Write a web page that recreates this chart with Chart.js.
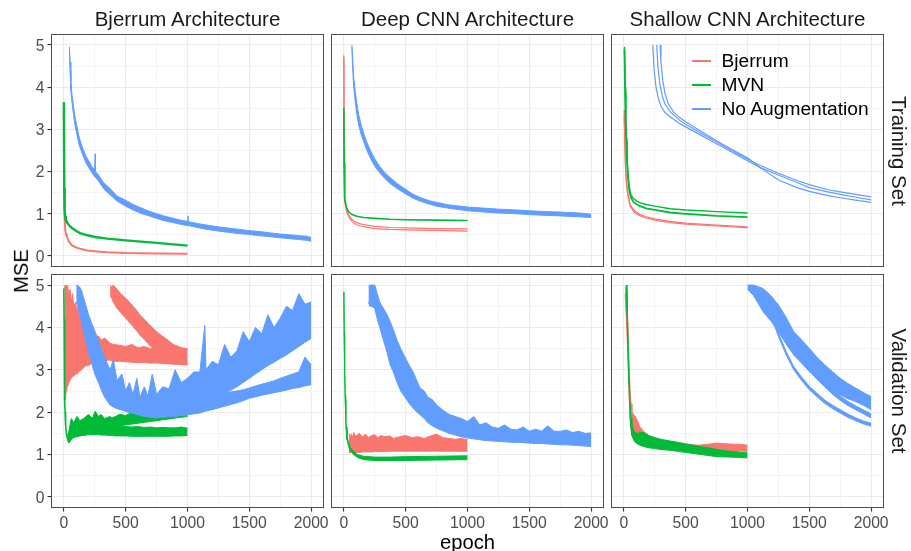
<!DOCTYPE html>
<html>
<head>
<meta charset="utf-8">
<script src="https://cdn.jsdelivr.net/npm/chart.js"></script>
<style>
  body { margin: 0; background: #fff; }
  #page { position: relative; width: 911px; height: 551px; overflow: hidden; font-family: "Liberation Sans", Arial, sans-serif; }
  canvas { position: absolute; left: 0; top: 0; }
  .txt { position: absolute; white-space: nowrap; line-height: 1; transform: translate(-50%, -50%); }
  .strip { font-size: 20.5px; color: #1a1a1a; }
  .axisTitle { font-size: 20.2px; color: #000; }
  .rot90 { transform: translate(-50%, -50%) rotate(90deg); }
  .rotm90 { transform: translate(-50%, -50%) rotate(-90deg); }
  .key { position: absolute; width: 19px; height: 2px; }
  .legTxt { position: absolute; font-size: 19.2px; line-height: 1; transform: translateY(-50%); color: #000; }
</style>
</head>
<body>
<div id="page">
  <canvas id="p0" width="911" height="551"></canvas>
  <canvas id="p1" width="911" height="551"></canvas>
  <canvas id="p2" width="911" height="551"></canvas>
  <canvas id="p3" width="911" height="551"></canvas>
  <canvas id="p4" width="911" height="551"></canvas>
  <canvas id="p5" width="911" height="551"></canvas>

  <div class="txt strip" style="left:187.5px;top:19px">Bjerrum Architecture</div>
  <div class="txt strip" style="left:467.5px;top:19px">Deep CNN Architecture</div>
  <div class="txt strip" style="left:747.5px;top:19px">Shallow CNN Architecture</div>
  <div class="txt strip rot90" style="left:899px;top:150.5px">Training Set</div>
  <div class="txt strip rot90" style="left:899px;top:391px">Validation Set</div>
  <div class="txt axisTitle rotm90" style="left:21px;top:271px">MSE</div>
  <div class="txt axisTitle" style="left:467.5px;top:541.5px">epoch</div>

  <div class="key" style="left:692px;top:60px;background:#F8766D"></div>
  <div class="legTxt" style="left:721.5px;top:61px">Bjerrum</div>
  <div class="key" style="left:692px;top:84px;background:#00BA38"></div>
  <div class="legTxt" style="left:721.5px;top:85px">MVN</div>
  <div class="key" style="left:692px;top:107.5px;background:#619CFF"></div>
  <div class="legTxt" style="left:721.5px;top:108.5px">No Augmentation</div>
</div>

<script>
// -- Axes --
const xGridValues = [0, 250, 500, 750, 1000, 1250, 1500, 1750, 2000];
const xTickLabels = [0, 500, 1000, 1500, 2000];
const yGridValues = [0, 0.5, 1, 1.5, 2, 2.5, 3, 3.5, 4, 4.5, 5];
const yTickLabels = [0, 1, 2, 3, 4, 5];

// -- Bjerrum architecture, training set --
const bjTrainBjEpoch = [0, 3, 6, 11, 18, 24, 38, 65, 100, 132, 190, 253, 350, 500, 750, 1000];
const bjTrainBjMse = [3.45, 1.6, 0.95, 0.62, 0.52, 0.47, 0.35, 0.25, 0.20, 0.17, 0.13, 0.11, 0.09, 0.07, 0.06, 0.05];
const bjTrainMvnEpoch = [0, 3, 6, 10, 16, 25, 38, 65, 100, 132, 190, 253, 350, 500, 750, 1000];
const bjTrainMvnMse = [3.65, 1.6, 1.1, 0.95, 0.86, 0.80, 0.74, 0.66, 0.59, 0.54, 0.49, 0.45, 0.41, 0.37, 0.31, 0.245];
const bjTrainNoneEpoch = [45, 50, 56, 65, 78, 90, 105, 125, 145, 160, 180, 200, 225, 250, 253, 256, 280, 320, 374, 430, 500, 560, 624, 690, 750, 820, 900, 960, 1000, 1004, 1008, 1100, 1180, 1250, 1330, 1420, 1500, 1580, 1660, 1750, 1830, 1900, 1960, 2000];
const bjTrainNoneHi = [4.96, 4.6, 4.15, 3.85, 3.55, 3.30, 3.08, 2.80, 2.62, 2.50, 2.36, 2.26, 2.12, 2.05, 2.42, 2.0, 1.92, 1.74, 1.60, 1.42, 1.32, 1.22, 1.14, 1.06, 1.0, 0.94, 0.88, 0.84, 0.82, 0.95, 0.81, 0.76, 0.72, 0.69, 0.66, 0.63, 0.60, 0.58, 0.55, 0.52, 0.50, 0.48, 0.47, 0.44];
const bjTrainNoneLo = [4.9, 4.4, 3.95, 3.65, 3.35, 3.1, 2.88, 2.62, 2.45, 2.34, 2.20, 2.10, 1.98, 1.88, 1.87, 1.86, 1.78, 1.60, 1.45, 1.30, 1.18, 1.09, 1.01, 0.95, 0.89, 0.83, 0.78, 0.74, 0.72, 0.72, 0.72, 0.66, 0.62, 0.59, 0.56, 0.53, 0.51, 0.48, 0.46, 0.43, 0.41, 0.39, 0.37, 0.35];

// -- Deep CNN architecture, training set --
const deepTrainBjEpoch = [0, 2, 4, 7, 12, 19, 28, 38, 50, 65, 85, 105, 135, 172, 250, 374, 500, 750, 1000];
const deepTrainBjMseA = [4.76, 2.6, 1.7, 1.35, 1.2, 1.10, 1.0, 0.94, 0.88, 0.82, 0.77, 0.74, 0.71, 0.69, 0.65, 0.63, 0.62, 0.605, 0.59];
const deepTrainBjMseB = [4.7, 2.5, 1.7, 1.4, 1.25, 1.15, 1.05, 0.99, 0.93, 0.87, 0.82, 0.79, 0.76, 0.74, 0.70, 0.675, 0.665, 0.65, 0.64];
const deepTrainMvnEpoch = [0, 2, 5, 9, 14, 20, 30, 45, 65, 105, 160, 250, 374, 500, 750, 1000];
const deepTrainMvnMse = [3.5, 2.2, 1.6, 1.35, 1.24, 1.17, 1.09, 1.03, 0.98, 0.94, 0.91, 0.89, 0.87, 0.86, 0.85, 0.84];
const deepTrainNoneEpoch = [65, 70, 78, 90, 105, 120, 140, 159, 180, 200, 225, 250, 290, 330, 374, 430, 500, 560, 624, 690, 750, 850, 1000, 1100, 1250, 1400, 1500, 1650, 1750, 1900, 2000];
const deepTrainNoneHi = [5.0, 4.75, 4.3, 3.95, 3.62, 3.35, 3.1, 2.92, 2.74, 2.6, 2.44, 2.30, 2.12, 1.98, 1.86, 1.72, 1.58, 1.46, 1.38, 1.31, 1.27, 1.21, 1.16, 1.14, 1.11, 1.09, 1.07, 1.05, 1.04, 1.02, 0.99];
const deepTrainNoneLo = [4.95, 4.55, 4.05, 3.7, 3.36, 3.1, 2.88, 2.72, 2.55, 2.41, 2.26, 2.13, 1.97, 1.84, 1.72, 1.60, 1.47, 1.37, 1.29, 1.23, 1.18, 1.13, 1.07, 1.05, 1.02, 1.0, 0.98, 0.96, 0.95, 0.93, 0.91];

// -- Shallow CNN architecture, training set --
const shTrainBjEpoch = [3, 8, 14, 20, 28, 38, 51, 65, 78, 100, 132, 180, 250, 374, 500, 750, 1000];
const shTrainBjMseA = [3.46, 2.7, 2.1, 1.8, 1.58, 1.41, 1.21, 1.15, 1.10, 1.04, 0.98, 0.93, 0.88, 0.82, 0.78, 0.73, 0.69];
const shTrainBjMseB = [3.3, 2.6, 2.0, 1.72, 1.52, 1.36, 1.18, 1.12, 1.06, 1.0, 0.95, 0.90, 0.85, 0.79, 0.755, 0.71, 0.67];
const shTrainMvnEpoch = [5, 10, 15, 20, 25, 30, 38, 46, 57, 78, 100, 132, 180, 250, 374, 500, 750, 1000];
const shTrainMvnMseA = [4.96, 4.0, 3.3, 2.8, 2.4, 2.1, 1.8, 1.6, 1.45, 1.36, 1.31, 1.26, 1.22, 1.18, 1.12, 1.09, 1.05, 1.02];
const shTrainMvnMseB = [4.9, 3.9, 3.2, 2.7, 2.3, 2.0, 1.7, 1.52, 1.38, 1.28, 1.23, 1.18, 1.13, 1.09, 1.03, 1.0, 0.95, 0.92];
const shTrainNoneEpochA = [234, 245, 260, 280, 300, 333, 374, 450, 500, 600, 750, 900, 1000, 1100, 1250, 1400, 1500, 1650, 1750, 1900, 2000];
const shTrainNoneMseA = [5.0, 4.4, 4.0, 3.72, 3.55, 3.40, 3.30, 3.14, 3.06, 2.90, 2.66, 2.42, 2.26, 2.10, 1.92, 1.74, 1.62, 1.52, 1.46, 1.38, 1.33];
const shTrainNoneEpochB = [266, 275, 290, 310, 333, 374, 450, 500, 600, 750, 900, 1000, 1100, 1250, 1400, 1500, 1650, 1750, 1900, 2000];
const shTrainNoneMseB = [5.0, 4.5, 4.1, 3.8, 3.6, 3.42, 3.22, 3.12, 2.95, 2.70, 2.46, 2.30, 2.15, 1.96, 1.79, 1.69, 1.57, 1.52, 1.45, 1.40];
const shTrainNoneEpochC = [293, 300, 315, 333, 360, 400, 450, 500, 600, 750, 900, 1000, 1100, 1250, 1400, 1500, 1650, 1750, 1900, 2000];
const shTrainNoneMseC = [5.0, 4.6, 4.15, 3.85, 3.6, 3.42, 3.28, 3.18, 3.0, 2.73, 2.48, 2.33, 2.10, 1.80, 1.62, 1.53, 1.43, 1.38, 1.31, 1.27];

// -- Bjerrum architecture, validation set --
const bjValBjEpochA = [5, 10, 15, 20, 25, 30, 40, 50, 60, 70, 80, 95, 105, 120, 140, 160, 180, 200, 225, 253, 280, 300, 330, 374, 400, 450, 500, 550, 600, 650, 700, 750, 800, 850, 900, 950, 1000];
const bjValBjHiA = [4.9, 5.0, 4.7, 5.0, 4.85, 5.0, 4.75, 4.9, 4.6, 4.8, 4.5, 4.6, 4.37, 4.5, 4.1, 4.2, 3.95, 4.0, 3.85, 3.78, 3.8, 3.7, 3.75, 3.63, 3.6, 3.58, 3.55, 3.6, 3.52, 3.55, 3.5, 3.5, 3.55, 3.48, 3.5, 3.52, 3.47];
const bjValBjLoA = [3.2, 2.3, 2.4, 2.5, 2.6, 2.6, 2.7, 2.75, 2.8, 2.85, 2.85, 2.9, 2.9, 2.95, 3.0, 3.05, 3.1, 3.1, 3.15, 3.19, 3.2, 3.2, 3.22, 3.23, 3.2, 3.2, 3.19, 3.18, 3.17, 3.17, 3.16, 3.16, 3.15, 3.14, 3.13, 3.12, 3.12];
const bjValBjEpochB = [374, 385, 400, 430, 460, 500, 530, 560, 590, 616, 650, 680, 715, 750, 785, 820, 850, 884, 920, 950, 1000];
const bjValBjHiB = [5.0, 4.95, 5.0, 4.9, 4.8, 4.69, 4.6, 4.5, 4.4, 4.29, 4.2, 4.1, 4.0, 3.9, 3.82, 3.75, 3.68, 3.6, 3.56, 3.52, 3.5];
const bjValBjLoB = [4.75, 4.7, 4.6, 4.45, 4.35, 4.22, 4.12, 4.02, 3.92, 3.82, 3.72, 3.62, 3.52, 3.43, 3.36, 3.3, 3.25, 3.19, 3.16, 3.14, 3.12];
const bjValMvnDropEpoch = [0, 2, 4, 6, 8, 10, 14, 20, 28, 35];
const bjValMvnDropMse = [4.92, 4.2, 3.4, 2.8, 2.3, 2.0, 1.7, 1.5, 1.38, 1.32];
const bjValMvnEpochA = [30, 40, 50, 60, 80, 105, 130, 160, 200, 230, 253, 280, 300, 330, 374, 420, 450, 500, 550, 600, 650, 700, 750, 800, 850, 900, 950, 1000];
const bjValMvnHiA = [1.45, 1.55, 1.7, 1.85, 1.75, 1.9, 1.8, 1.85, 1.95, 1.85, 2.02, 1.9, 1.95, 1.85, 1.9, 1.75, 1.68, 1.66, 1.65, 1.66, 1.64, 1.65, 1.63, 1.64, 1.63, 1.63, 1.65, 1.62];
const bjValMvnLoA = [1.3, 1.28, 1.3, 1.35, 1.40, 1.42, 1.44, 1.45, 1.47, 1.47, 1.47, 1.47, 1.46, 1.46, 1.45, 1.44, 1.44, 1.44, 1.43, 1.43, 1.43, 1.43, 1.43, 1.43, 1.43, 1.44, 1.44, 1.45];
const bjValMvnEpochB = [374, 420, 450, 500, 550, 600, 650, 700, 750, 800, 850, 900, 950, 1000];
const bjValMvnHiB = [1.85, 1.9, 1.95, 1.92, 2.0, 1.98, 2.05, 2.08, 2.1, 2.12, 2.1, 2.15, 2.17, 2.2];
const bjValMvnLoB = [1.62, 1.65, 1.68, 1.7, 1.72, 1.74, 1.76, 1.78, 1.8, 1.82, 1.84, 1.86, 1.88, 1.9];
const bjValNoneEpochA = [100, 115, 130, 145, 160, 180, 200, 225, 253, 280, 300, 330, 374, 400, 430, 470, 500, 530, 560, 590, 616, 650, 680, 715, 750, 800, 850, 900, 950, 1000, 1050, 1100, 1140, 1150, 1200, 1250, 1300, 1350, 1400, 1450, 1500, 1550, 1600, 1650, 1700, 1750, 1800, 1850, 1900, 1950, 2000];
const bjValNoneHiA = [5.0, 4.98, 4.95, 4.85, 4.7, 4.5, 4.3, 4.1, 3.9, 3.7, 3.5, 3.3, 3.0, 3.25, 2.75, 2.9, 2.5, 2.7, 2.42, 2.8, 2.35, 2.6, 2.38, 2.9, 2.42, 2.6, 2.55, 3.0, 2.7, 2.8, 2.95, 2.95, 4.05, 3.0, 3.2, 3.12, 3.6, 3.3, 3.45, 3.9, 3.67, 4.0, 3.85, 4.3, 4.0, 4.22, 4.5, 4.4, 4.8, 4.55, 4.6];
const bjValNoneLoA = [4.6, 4.5, 4.3, 4.1, 3.9, 3.65, 3.4, 3.15, 2.88, 2.7, 2.55, 2.35, 2.17, 2.12, 2.08, 2.05, 2.02, 2.0, 1.98, 1.96, 1.94, 1.92, 1.90, 1.88, 1.86, 1.9, 1.95, 2.0, 2.05, 2.10, 2.15, 2.20, 2.25, 2.26, 2.3, 2.33, 2.45, 2.52, 2.60, 2.70, 2.80, 2.90, 3.00, 3.1, 3.18, 3.27, 3.35, 3.45, 3.55, 3.65, 3.74];
const bjValNoneEpochB = [110, 130, 150, 175, 200, 225, 253, 280, 300, 330, 374, 410, 450, 500, 550, 600, 650, 700, 750, 800, 850, 900, 950, 1000, 1050, 1100, 1150, 1200, 1250, 1300, 1350, 1400, 1450, 1500, 1550, 1600, 1650, 1700, 1750, 1800, 1850, 1900, 1950, 2000];
const bjValNoneHiB = [5.0, 4.85, 4.6, 4.35, 4.1, 3.85, 3.6, 3.4, 3.2, 2.95, 2.7, 2.55, 2.42, 2.3, 2.24, 2.18, 2.15, 2.12, 2.14, 2.16, 2.2, 2.22, 2.25, 2.25, 2.28, 2.3, 2.34, 2.37, 2.41, 2.45, 2.48, 2.50, 2.53, 2.57, 2.62, 2.66, 2.7, 2.74, 2.80, 2.85, 2.90, 2.95, 3.3, 3.12];
const bjValNoneLoB = [4.5, 4.3, 4.1, 3.8, 3.5, 3.25, 3.0, 2.8, 2.6, 2.45, 2.3, 2.2, 2.1, 2.02, 1.98, 1.94, 1.90, 1.88, 1.88, 1.88, 1.89, 1.90, 1.92, 1.94, 1.96, 1.98, 2.03, 2.06, 2.10, 2.14, 2.18, 2.22, 2.27, 2.33, 2.36, 2.40, 2.43, 2.46, 2.49, 2.52, 2.56, 2.58, 2.62, 2.65];

// -- Deep CNN architecture, validation set --
const deepValBjEpoch = [40, 50, 60, 70, 80, 95, 105, 125, 150, 175, 200, 225, 250, 275, 300, 330, 374, 400, 450, 500, 550, 600, 650, 700, 750, 800, 850, 900, 950, 1000];
const deepValBjHi = [1.5, 1.42, 1.48, 1.4, 1.52, 1.44, 1.45, 1.5, 1.42, 1.48, 1.4, 1.45, 1.47, 1.4, 1.45, 1.42, 1.44, 1.38, 1.42, 1.45, 1.4, 1.42, 1.38, 1.44, 1.48, 1.4, 1.38, 1.36, 1.38, 1.35];
const deepValBjLo = [1.05, 1.05, 1.05, 1.05, 1.05, 1.05, 1.05, 1.05, 1.06, 1.06, 1.06, 1.06, 1.07, 1.07, 1.07, 1.07, 1.08, 1.08, 1.08, 1.08, 1.08, 1.08, 1.08, 1.08, 1.08, 1.08, 1.08, 1.08, 1.08, 1.08];
const deepValMvnEpoch = [0, 3, 6, 11, 15, 19, 25, 38, 55, 78, 110, 159, 250, 374, 500, 750, 1000];
const deepValMvnHi = [4.84, 3.9, 3.1, 2.4, 1.95, 1.65, 1.45, 1.28, 1.16, 1.08, 1.0, 0.96, 0.94, 0.94, 0.95, 0.96, 0.97];
const deepValMvnLo = [4.84, 3.8, 3.0, 2.3, 1.85, 1.55, 1.35, 1.2, 1.08, 1.0, 0.93, 0.88, 0.86, 0.86, 0.86, 0.87, 0.88];
const deepValNoneEpoch = [199, 210, 225, 250, 270, 290, 310, 330, 350, 374, 400, 430, 460, 500, 530, 560, 590, 616, 650, 680, 715, 750, 800, 850, 900, 950, 1000, 1050, 1100, 1150, 1200, 1250, 1300, 1350, 1400, 1450, 1500, 1550, 1600, 1650, 1700, 1750, 1800, 1850, 1900, 1950, 2000];
const deepValNoneHi = [4.96, 5.0, 5.0, 5.0, 4.8, 4.6, 4.5, 4.4, 4.3, 4.14, 3.95, 3.7, 3.5, 3.27, 3.1, 2.95, 2.75, 2.57, 2.5, 2.35, 2.3, 2.17, 2.05, 1.95, 1.9, 1.85, 1.78, 1.9, 1.7, 1.75, 1.65, 1.62, 1.7, 1.6, 1.58, 1.65, 1.55, 1.6, 1.55, 1.68, 1.55, 1.55, 1.58, 1.52, 1.55, 1.5, 1.51];
const deepValNoneLo = [4.6, 4.5, 4.5, 4.45, 4.2, 4.0, 3.8, 3.6, 3.4, 3.12, 2.95, 2.7, 2.5, 2.33, 2.2, 2.1, 2.0, 1.94, 1.85, 1.75, 1.68, 1.62, 1.56, 1.50, 1.46, 1.42, 1.39, 1.37, 1.35, 1.33, 1.32, 1.31, 1.30, 1.29, 1.29, 1.28, 1.27, 1.26, 1.26, 1.25, 1.24, 1.23, 1.23, 1.22, 1.21, 1.20, 1.19];

// -- Shallow CNN architecture, validation set --
const shValBjEpoch = [10, 20, 30, 38, 45, 51, 58, 65, 78, 91, 110, 130, 159, 200, 250, 300, 374, 450, 500, 600, 700, 750, 850, 950, 1000];
const shValBjHi = [4.95, 4.9, 4.3, 3.5, 2.9, 2.5, 2.2, 2.0, 1.95, 1.9, 1.8, 1.65, 1.55, 1.45, 1.38, 1.33, 1.30, 1.28, 1.25, 1.22, 1.25, 1.27, 1.25, 1.24, 1.22];
const shValBjLo = [4.8, 4.2, 3.5, 2.8, 2.2, 1.8, 1.6, 1.5, 1.40, 1.32, 1.27, 1.24, 1.22, 1.19, 1.17, 1.14, 1.12, 1.10, 1.09, 1.07, 1.06, 1.06, 1.07, 1.08, 1.08];
const shValMvnEpoch = [18, 25, 32, 38, 45, 51, 58, 65, 78, 91, 110, 130, 159, 200, 250, 300, 374, 450, 500, 600, 700, 750, 850, 950, 1000];
const shValMvnHi = [5.0, 4.7, 4.0, 3.3, 2.6, 2.15, 1.85, 1.7, 1.58, 1.52, 1.50, 1.52, 1.52, 1.45, 1.40, 1.36, 1.32, 1.28, 1.25, 1.2, 1.15, 1.12, 1.08, 1.05, 1.04];
const shValMvnLo = [4.85, 4.4, 3.6, 2.9, 2.3, 1.9, 1.6, 1.45, 1.35, 1.29, 1.25, 1.22, 1.19, 1.16, 1.14, 1.12, 1.10, 1.07, 1.05, 1.01, 0.97, 0.95, 0.94, 0.93, 0.92];
const shValNoneEpochA = [1000, 1050, 1126, 1190, 1250, 1310, 1374, 1440, 1500, 1560, 1624, 1690, 1750, 1810, 1874, 1940, 2000];
const shValNoneHiA = [5.0, 5.0, 4.92, 4.75, 4.53, 4.25, 3.90, 3.70, 3.51, 3.30, 3.12, 2.95, 2.80, 2.68, 2.57, 2.46, 2.37];
const shValNoneLoA = [4.9, 4.75, 4.37, 4.15, 3.90, 3.62, 3.35, 3.15, 2.96, 2.80, 2.65, 2.52, 2.41, 2.32, 2.25, 2.16, 2.06];
const shValNoneEpochB = [1073, 1126, 1190, 1250, 1310, 1374, 1440, 1500, 1560, 1624, 1690, 1750, 1810, 1874, 1940, 2000];
const shValNoneHiB = [4.98, 4.65, 4.35, 4.16, 3.85, 3.55, 3.30, 3.08, 2.88, 2.70, 2.52, 2.38, 2.26, 2.15, 2.05, 1.96];
const shValNoneLoB = [4.92, 4.55, 4.25, 4.06, 3.75, 3.45, 3.20, 2.98, 2.78, 2.60, 2.42, 2.28, 2.16, 2.06, 1.96, 1.86];
const shValNoneEpochC = [1040, 1100, 1183, 1250, 1310, 1374, 1440, 1500, 1560, 1624, 1690, 1750, 1810, 1874, 1940, 2000];
const shValNoneHiC = [5.0, 4.75, 4.40, 3.87, 3.45, 3.08, 2.82, 2.61, 2.45, 2.29, 2.16, 2.06, 1.96, 1.87, 1.79, 1.74];
const shValNoneLoC = [4.96, 4.68, 4.32, 3.79, 3.37, 3.00, 2.74, 2.53, 2.37, 2.21, 2.08, 1.98, 1.88, 1.80, 1.72, 1.67];

// -- Layout / style --
const PAGE_W = 911, PAGE_H = 551;
const COL_LEFT = [51.5, 331.5, 611.5];
const ROW_TOP = [34.5, 274.5];
const PANEL_W = 272;
const PANEL_H = [232, 233];
const AXIS_W = 45;   // room kept for the y tick labels (left column only)
const AXIS_H = 35;   // room kept for the x tick labels (bottom row only)
const RED = '#F8766D', GREEN = '#00BA38', BLUE = '#619CFF';
const FONT = '"Liberation Sans", Arial, sans-serif';

const pts = (ep, ys) => ep.map((e, i) => ({ x: e, y: ys[i] }));

// ggplot draws groups in order: Bjerrum, MVN, No Augmentation (last on top)
const ORDER = { [RED]: 2, [GREEN]: 1, [BLUE]: 0 };

function line(color, ep, ys, width) {
    return { data: pts(ep, ys), borderColor: color, borderWidth: width || 1.2, pointRadius: 0, fill: false, order: ORDER[color] };
}

// noisy replicate runs drawn as a filled band between low and high envelopes
function band(color, ep, lo, hi) {
    return [
        { data: pts(ep, hi), borderColor: color, borderWidth: 1, pointRadius: 0, fill: false, order: ORDER[color] },
        { data: pts(ep, lo), borderColor: color, borderWidth: 1, pointRadius: 0, fill: '-1', backgroundColor: color, order: ORDER[color] }
    ];
}

const panelBorder = {
    id: 'panelBorder',
    afterDraw(chart) {
        const a = chart.chartArea, ctx = chart.ctx;
        ctx.save();
        ctx.strokeStyle = '#4d4d4d';
        ctx.lineWidth = 1;
        ctx.strokeRect(a.left, a.top, a.right - a.left, a.bottom - a.top);
        ctx.restore();
    }
};

const isMajorX = c => c.tick && xTickLabels.includes(c.tick.value);
const isMajorY = c => c.tick && yTickLabels.includes(c.tick.value);

function makePanel(id, col, row, datasets) {
    const left = COL_LEFT[col], top = ROW_TOP[row];
    const showX = row === 1, showY = col === 0;
    const axW = showY ? AXIS_W : 0, axH = showX ? AXIS_H : 0;
    new Chart(document.getElementById(id), {
        type: 'line',
        data: { datasets },
        options: {
            responsive: false,
            animation: false,
            devicePixelRatio: 1,
            events: [],
            layout: { padding: {
                left: left - axW,
                top: top,
                right: PAGE_W - left - PANEL_W,
                bottom: PAGE_H - top - PANEL_H[row] - axH
            } },
            plugins: { legend: { display: false }, tooltip: { enabled: false } },
            scales: {
                x: {
                    type: 'linear', min: -100, max: 2100,
                    afterBuildTicks: s => { s.ticks = xGridValues.map(v => ({ value: v })); },
                    afterFit: s => { s.height = axH; },
                    border: { display: false },
                    grid: {
                        color: c => isMajorX(c) ? '#ebebeb' : '#f3f3f3',
                        lineWidth: c => isMajorX(c) ? 1.1 : 0.9,
                        drawTicks: showX, tickLength: 4, tickWidth: 1.1,
                        tickColor: c => isMajorX(c) ? '#333333' : 'rgba(0,0,0,0)'
                    },
                    ticks: {
                        display: showX, autoSkip: false, maxRotation: 0, minRotation: 0, padding: 3,
                        color: '#4d4d4d', font: { family: FONT, size: 15.7 },
                        callback: v => xTickLabels.includes(v) ? String(v) : ''
                    }
                },
                y: {
                    type: 'linear', min: -0.25, max: 5.25,
                    afterBuildTicks: s => { s.ticks = yGridValues.map(v => ({ value: v })); },
                    afterFit: s => { s.width = axW; },
                    border: { display: false },
                    grid: {
                        color: c => isMajorY(c) ? '#ebebeb' : '#f3f3f3',
                        lineWidth: c => isMajorY(c) ? 1.1 : 0.9,
                        drawTicks: showY, tickLength: 4, tickWidth: 1.1,
                        tickColor: c => isMajorY(c) ? '#333333' : 'rgba(0,0,0,0)'
                    },
                    ticks: {
                        display: showY, autoSkip: false, padding: 3, labelOffset: 1.5,
                        color: '#4d4d4d', font: { family: FONT, size: 15.7 },
                        callback: v => yTickLabels.includes(v) ? String(v) : ''
                    }
                }
            }
        },
        plugins: [panelBorder]
    });
}

// -- Training set row --
makePanel('p0', 0, 0, [
    line(RED, bjTrainBjEpoch, bjTrainBjMse, 2),
    line(GREEN, bjTrainMvnEpoch, bjTrainMvnMse, 2.4),
    ...band(BLUE, bjTrainNoneEpoch, bjTrainNoneLo, bjTrainNoneHi)
]);
makePanel('p1', 1, 0, [
    line(RED, deepTrainBjEpoch, deepTrainBjMseA),
    line(RED, deepTrainBjEpoch, deepTrainBjMseB),
    line(GREEN, deepTrainMvnEpoch, deepTrainMvnMse, 1.6),
    ...band(BLUE, deepTrainNoneEpoch, deepTrainNoneLo, deepTrainNoneHi)
]);
makePanel('p2', 2, 0, [
    line(RED, shTrainBjEpoch, shTrainBjMseA),
    line(RED, shTrainBjEpoch, shTrainBjMseB),
    line(GREEN, shTrainMvnEpoch, shTrainMvnMseA, 1.4),
    line(GREEN, shTrainMvnEpoch, shTrainMvnMseB, 1.8),
    line(BLUE, shTrainNoneEpochA, shTrainNoneMseA),
    line(BLUE, shTrainNoneEpochB, shTrainNoneMseB),
    line(BLUE, shTrainNoneEpochC, shTrainNoneMseC)
]);

// -- Validation set row --
makePanel('p3', 0, 1, [
    ...band(RED, bjValBjEpochA, bjValBjLoA, bjValBjHiA),
    ...band(RED, bjValBjEpochB, bjValBjLoB, bjValBjHiB),
    line(GREEN, bjValMvnDropEpoch, bjValMvnDropMse, 1.6),
    ...band(GREEN, bjValMvnEpochA, bjValMvnLoA, bjValMvnHiA),
    ...band(GREEN, bjValMvnEpochB, bjValMvnLoB, bjValMvnHiB),
    ...band(BLUE, bjValNoneEpochA, bjValNoneLoA, bjValNoneHiA),
    ...band(BLUE, bjValNoneEpochB, bjValNoneLoB, bjValNoneHiB)
]);
makePanel('p4', 1, 1, [
    ...band(RED, deepValBjEpoch, deepValBjLo, deepValBjHi),
    ...band(GREEN, deepValMvnEpoch, deepValMvnLo, deepValMvnHi),
    ...band(BLUE, deepValNoneEpoch, deepValNoneLo, deepValNoneHi)
]);
makePanel('p5', 2, 1, [
    ...band(RED, shValBjEpoch, shValBjLo, shValBjHi),
    ...band(GREEN, shValMvnEpoch, shValMvnLo, shValMvnHi),
    ...band(BLUE, shValNoneEpochA, shValNoneLoA, shValNoneHiA),
    ...band(BLUE, shValNoneEpochB, shValNoneLoB, shValNoneHiB),
    ...band(BLUE, shValNoneEpochC, shValNoneLoC, shValNoneHiC)
]);
</script>
</body>
</html>
